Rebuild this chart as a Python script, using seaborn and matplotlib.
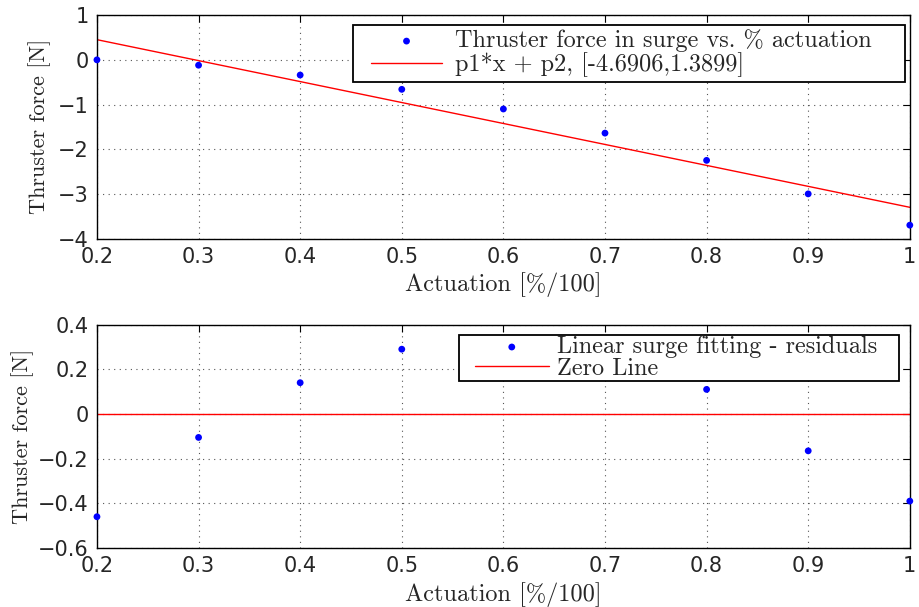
import matplotlib
matplotlib.use("Agg")
import matplotlib.pyplot as plt
import seaborn as sns
import pandas as pd
from matplotlib.collections import PathCollection
from matplotlib.lines import Line2D
from matplotlib.legend_handler import HandlerLine2D, HandlerPathCollection

# Thruster surge measurements: actuation fraction vs. measured force [N]
actuation = [0.2, 0.3, 0.4, 0.5, 0.6, 0.7, 0.8, 0.9, 1.0]
force = [0.0, -0.12, -0.34, -0.66, -1.10, -1.64, -2.25, -3.00, -3.70]

# Linear fit coefficients (p1*x + p2)
p1, p2 = -4.6906, 1.3899

# Residuals of the linear fit
residuals = [-0.46, -0.105, 0.14, 0.29, 0.32, 0.25, 0.11, -0.165, -0.39]

x_ticks = [0.2, 0.3, 0.4, 0.5, 0.6, 0.7, 0.8, 0.9, 1.0]
x_tick_labels = ["0.2", "0.3", "0.4", "0.5", "0.6", "0.7", "0.8", "0.9", "1"]
top_yticks = [-4, -3, -2, -1, 0, 1]
top_ytick_labels = ["\u22124", "\u22123", "\u22122", "\u22121", "0", "1"]
bot_yticks = [-0.6, -0.4, -0.2, 0.0, 0.2, 0.4]
bot_ytick_labels = ["\u22120.6", "\u22120.4", "\u22120.2", "0", "0.2", "0.4"]

df = pd.DataFrame({"actuation": actuation, "force": force, "residual": residuals})
fit_df = pd.DataFrame({"actuation": [actuation[0], actuation[-1]],
                       "fit": [p1 * actuation[0] + p2, p1 * actuation[-1] + p2]})
zero_df = pd.DataFrame({"actuation": [actuation[0], actuation[-1]], "zero": [0.0, 0.0]})

sns.set_theme(style="white")
plt.rcParams["font.family"] = ["DejaVu Sans"]
plt.rcParams["axes.unicode_minus"] = True

serif = ["cmr10", "DejaVu Serif"]
xlabel_fs = 17.5
ylabel_fs = 16
legend_fs = 17.5
tick_fs = 15

fig = plt.figure(figsize=(9.19, 6.07), dpi=100)
fig.patch.set_facecolor("white")
ax1 = fig.add_axes([0.1055, 0.607, 0.8845, 0.368])
ax2 = fig.add_axes([0.1055, 0.0972, 0.8845, 0.368])


def style_axes(ax, yticks, ylabels, ylim):
    ax.set_xlim(0.2, 1.0)
    ax.set_ylim(*ylim)
    ax.set_xticks(x_ticks)
    ax.set_xticklabels(x_tick_labels, fontsize=tick_fs)
    ax.set_yticks(yticks)
    ax.set_yticklabels(ylabels, fontsize=tick_fs)
    ax.tick_params(direction="in", length=5, width=0.8, top=True, right=True,
                   color="black", pad=6)
    ax.grid(True, linestyle=(0, (1, 4)), color="#555555", linewidth=0.8)
    for s in ax.spines.values():
        s.set_color("black")
        s.set_linewidth(1.0)
    ax.set_facecolor("white")


def make_legend(ax, box, xpad, line_len, text_pad, border_pad, spacing):
    # Legend handles get an inset on the left; "expand" stretches the frame to the box width
    handler_map = {Line2D: HandlerLine2D(xpad=xpad),
                   PathCollection: HandlerPathCollection(xpad=xpad)}
    leg = ax.legend(loc="upper left", bbox_to_anchor=box, mode="expand",
                    frameon=True, fancybox=False, framealpha=1, edgecolor="black",
                    labelspacing=spacing, handlelength=line_len + xpad,
                    handletextpad=text_pad, borderaxespad=0.0, borderpad=border_pad,
                    handler_map=handler_map,
                    prop={"family": serif, "size": legend_fs})
    leg.get_frame().set_linewidth(1.3)
    leg.set_zorder(10)
    return leg


# Top: measured force and linear fit
sns.scatterplot(data=df, x="actuation", y="force", ax=ax1, color="blue", s=24,
                edgecolor="none", label="Thruster force in surge vs. % actuation",
                zorder=3, clip_on=False)
sns.lineplot(data=fit_df, x="actuation", y="fit", ax=ax1, color="red", linewidth=1.0,
             label="p1*x + p2, [-4.6906,1.3899]", zorder=2)
style_axes(ax1, top_yticks, top_ytick_labels, (-4, 1))
ax1.set_xlabel("Actuation [%/100]", fontsize=xlabel_fs, family=serif, labelpad=4)
ax1.set_ylabel("Thruster force [N]", fontsize=ylabel_fs, family=serif)
ax1.yaxis.set_label_coords(-0.056, 0.5)
make_legend(ax1, (0.3149, 0.0, 0.679, 0.955), 0.55, 2.95, 0.5, 0.18, 0.0)

# Bottom: residuals and zero reference
sns.scatterplot(data=df, x="actuation", y="residual", ax=ax2, color="blue", s=24,
                edgecolor="none", label="Linear surge fitting - residuals",
                zorder=3, clip_on=False)
sns.lineplot(data=zero_df, x="actuation", y="zero", ax=ax2, color="red", linewidth=1.0,
             label="Zero Line", zorder=2)
style_axes(ax2, bot_yticks, bot_ytick_labels, (-0.6, 0.4))
ax2.set_xlabel("Actuation [%/100]", fontsize=xlabel_fs, family=serif, labelpad=4)
ax2.set_ylabel("Thruster force [N]", fontsize=ylabel_fs, family=serif)
ax2.yaxis.set_label_coords(-0.078, 0.5)
make_legend(ax2, (0.4453, 0.0, 0.5412, 0.955), 0.6, 3.05, 0.33, 0.05, -0.04)

fig.savefig("out.png", dpi=100, facecolor="white")
